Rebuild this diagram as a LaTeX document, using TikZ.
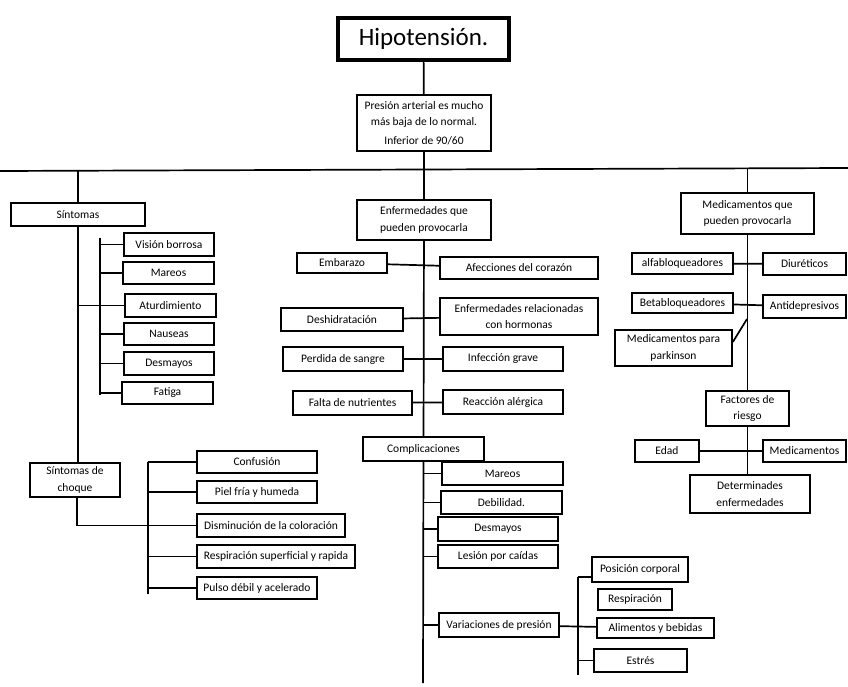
\documentclass[tikz,border=0pt]{standalone}
\usepackage{fontspec}
\setmainfont{Carlito}
\usepackage{tikz}
\usetikzlibrary{positioning,shapes,arrows.meta}
\tikzstyle{block} = [rectangle, draw=black, line width=1.7pt, inner sep=1pt, align=center, font=\fontsize{11.5}{16.5}\selectfont]
\tikzstyle{titleblock} = [rectangle, draw=black, line width=3.5pt, inner sep=1pt, font=\fontsize{25}{29}\selectfont]
\tikzstyle{line} = [draw=black, line width=1.7pt]

\begin{document}
\begin{tikzpicture}[x=1pt, y=-1pt]
		\useasboundingbox (0,0) rectangle (848,687);
		\node[titleblock, minimum width=171, minimum height=42] (title) at (423.5,39) {Hipotensión.};
		\node[block, minimum width=134, minimum height=56] (def) at (424,123) {Presión arterial es mucho\\más baja de lo normal.\\[2pt]Inferior de 90/60};
		\coordinate (hl) at (0,171);
		\coordinate (hr) at (848,168);
		\node[block, minimum width=134, minimum height=23] (sint) at (78,214.5) {Síntomas};
		\node[block, minimum width=134, minimum height=40] (enf) at (424,220) {Enfermedades que\\pueden provocarla};
		\node[block, minimum width=133, minimum height=41] (medic) at (747.5,213.5) {Medicamentos que\\pueden provocarla};
		\node[block, minimum width=90, minimum height=23] (vision) at (169,244.5) {Visión borrosa};
		\node[block, minimum width=91, minimum height=22] (mareos) at (168.5,273) {Mareos};
		\node[block, minimum width=91, minimum height=23] (aturd) at (170.5,305.5) {Aturdimiento};
		\node[block, minimum width=90, minimum height=22] (nauseas) at (169,334) {Nauseas};
		\node[block, minimum width=90, minimum height=23] (desmayos) at (169,363.5) {Desmayos};
		\node[block, minimum width=91, minimum height=22] (fatiga) at (167.5,393) {Fatiga};
		\node[block, minimum width=90, minimum height=34] (choque) at (75,480) {Síntomas de\\choque};
		\node[block, minimum width=120, minimum height=22] (confusion) at (257,462) {Confusión};
		\node[block, minimum width=120, minimum height=22] (piel) at (257,492) {Piel fría y humeda};
		\node[block, minimum width=148, minimum height=23] (dismin) at (271,525.5) {Disminución de la coloración};
		\node[block, minimum width=158, minimum height=23] (respsup) at (276,556.5) {Respiración superficial y rapida};
		\node[block, minimum width=120, minimum height=22] (pulso) at (257,588) {Pulso débil y acelerado};
		\node[block, minimum width=90, minimum height=20] (embarazo) at (342,263) {Embarazo};
		\node[block, minimum width=158, minimum height=22] (afecc) at (519,268) {Afecciones del corazón};
		\node[block, minimum width=122, minimum height=23] (deshid) at (342,319.5) {Deshidratación};
		\node[block, minimum width=158, minimum height=37] (hormonas) at (519,316.5) {Enfermedades relacionadas\\con hormonas};
		\node[block, minimum width=120, minimum height=24] (perdida) at (343,359) {Perdida de sangre};
		\node[block, minimum width=120, minimum height=24] (infecc) at (503,359) {Infección grave};
		\node[block, minimum width=119, minimum height=24] (falta) at (352.5,403) {Falta de nutrientes};
		\node[block, minimum width=120, minimum height=24] (reacc) at (503,402) {Reacción alérgica};
		\node[block, minimum width=121, minimum height=24] (compl) at (423.5,449) {Complicaciones};
		\node[block, minimum width=121, minimum height=23] (cmareos) at (502.5,473.5) {Mareos};
		\node[block, minimum width=121, minimum height=23] (debil) at (501.5,502.5) {Debilidad.};
		\node[block, minimum width=120, minimum height=24] (cdesmayos) at (498,529) {Desmayos};
		\node[block, minimum width=120, minimum height=23] (lesion) at (498,556.5) {Lesión por caídas};
		\node[block, minimum width=120, minimum height=24] (variac) at (499,625) {Variaciones de presión};
		\node[block, minimum width=96, minimum height=25] (posicion) at (640,569.5) {Posición corporal};
		\node[block, minimum width=74, minimum height=21] (respir) at (635,599.5) {Respiración};
		\node[block, minimum width=117, minimum height=20] (alimentos) at (655.5,628) {Alimentos y bebidas};
		\node[block, minimum width=93, minimum height=23] (estres) at (640.5,660.5) {Estrés};
		\node[block, minimum width=101, minimum height=21] (alfa) at (682.5,263.5) {alfabloqueadores};
		\node[block, minimum width=83, minimum height=22] (diur) at (804.5,264) {Diuréticos};
		\node[block, minimum width=101, minimum height=20] (beta) at (682.5,303) {Betabloqueadores};
		\node[block, minimum width=83, minimum height=23] (antid) at (804.5,306.5) {Antidepresivos};
		\node[block, minimum width=117, minimum height=36] (parkinson) at (673.5,348) {Medicamentos para\\parkinson};
		\node[block, minimum width=83, minimum height=35] (factores) at (747.5,408.5) {Factores de\\riesgo};
		\node[block, minimum width=64, minimum height=22] (edad) at (667,451) {Edad};
		\node[block, minimum width=83, minimum height=22] (medicam) at (804.5,451) {Medicamentos};
		\node[block, minimum width=120, minimum height=38] (determ) at (750,494) {Determinades\\enfermedades};
		\coordinate (sbt) at (100,238);
		\coordinate (sbb) at (100,395);
		\coordinate (cbt) at (148,462);
		\coordinate (cbb) at (148,594);
		\coordinate (cbot) at (423,683);
		\coordinate (vbt) at (578,577);
		\coordinate (vbb) at (578,675);
		\coordinate (pk) at (747,319);
		\draw[line] (title) -- (def);
		\draw[line] (def) -- (enf);
		\draw[line] (hl) -- (hr);
		\draw[line] (sint.north) -- (sint.north |- hl);
		\draw[line] (medic.north) -- (medic.north |- hr);
		\draw[line] (sint.south) -- (sint.south |- choque.north);
		\draw[line] (sint.south |- aturd.west) -- (aturd.west);
		\draw[line] (sbt) -- (sbb);
		\foreach \n in {vision,mareos,nauseas,desmayos,fatiga}
			\draw[line] (\n.west -| sbt) -- (\n.west);
		\draw[line] ([xshift=2pt]choque.south) |- (dismin.west);
		\draw[line] (cbt) -- (cbb);
		\foreach \n in {confusion,piel,respsup,pulso}
			\draw[line] (\n.west -| cbt) -- (\n.west);
		\draw[line] (enf) -- (compl);
		\draw[line] (compl) -- (cbot);
		\draw[line] (embarazo) -- (afecc);
		\draw[line] (deshid) -- (hormonas);
		\draw[line] (perdida) -- (infecc);
		\draw[line] (falta) -- (reacc);
		\foreach \n in {cmareos,debil,cdesmayos,lesion,variac}
			\draw[line] (\n.west -| cbot) -- (\n.west);
		\draw[line] (variac) -- (alimentos);
		\draw[line] (vbt) -- (vbb);
		\draw[line] (vbt) -- (vbt -| posicion.west);
		\draw[line] (estres.west -| vbt) -- (estres.west);
		\draw[line] (medic) -- (factores);
		\draw[line] (alfa) -- (diur);
		\draw[line] (beta) -- (antid);
		\draw[line] ([yshift=6pt]parkinson.east) -- (pk);
		\draw[line] (factores.south) -- (factores.south |- determ.north);
		\draw[line] (edad) -- (medicam);
	\end{tikzpicture}
\end{document}
